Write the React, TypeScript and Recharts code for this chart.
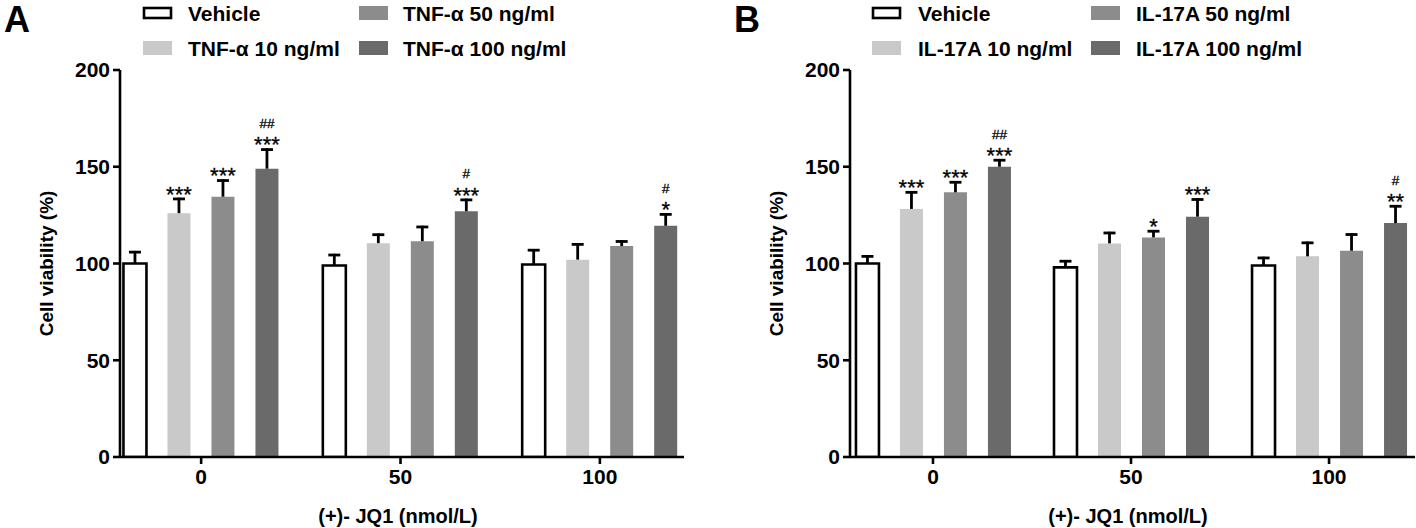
import React from "react";
import { BarChart, Bar, XAxis, YAxis, LabelList } from "recharts";

// (+)-JQ1 doses on the x axis
const doses = ["0", "50", "100"];

// Panel A: TNF-α
const tnfNames = ["Vehicle", "TNF-α 10 ng/ml", "TNF-α 50 ng/ml", "TNF-α 100 ng/ml"];
const tnfVehicle = [100, 99, 99.5];
const tnfVehicleErr = [6.5, 6, 8];
const tnf10 = [126, 110.5, 102];
const tnf10Err = [8, 5, 8.5];
const tnf50 = [134.5, 111.5, 109];
const tnf50Err = [9, 8, 3];
const tnf100 = [149, 127, 119.5];
const tnf100Err = [10.5, 6.5, 6.5];
const tnfStars = [
  ["", "", ""],
  ["***", "", ""],
  ["***", "", ""],
  ["***", "***", "*"],
];
const tnfHashes = [
  ["", "", ""],
  ["", "", ""],
  ["", "", ""],
  ["##", "#", "#"],
];

// Panel B: IL-17A
const ilNames = ["Vehicle", "IL-17A 10 ng/ml", "IL-17A 50 ng/ml", "IL-17A 100 ng/ml"];
const ilVehicle = [100, 98, 99];
const ilVehicleErr = [4.3, 3.8, 4.5];
const il10 = [128.2, 110.4, 103.7];
const il10Err = [9.2, 6, 7.6];
const il50 = [136.8, 113.5, 106.6];
const il50Err = [5.8, 3.8, 9];
const il100 = [150, 124.2, 120.9];
const il100Err = [4, 9.5, 9.3];
const ilStars = [
  ["", "", ""],
  ["***", "", ""],
  ["***", "*", ""],
  ["***", "***", "**"],
];
const ilHashes = [
  ["", "", ""],
  ["", "", ""],
  ["", "", ""],
  ["##", "", "#"],
];

const yTicks = [0, 50, 100, 150, 200];
const fills = ["#ffffff", "#c9c9c9", "#8c8c8c", "#6a6a6a"];
const FONT = "'Liberation Sans', Arial, Helvetica, sans-serif";

const ErrShape = (props: any) => {
  const { x, y, width, height } = props;
  if (x == null || y == null) return null;
  const cx = x + width / 2;
  return (
    <g>
      <line x1={cx} x2={cx} y1={y + height} y2={y} stroke="#000" strokeWidth={2.8} />
      <line x1={cx - 6} x2={cx + 6} y1={y + 1.2} y2={y + 1.2} stroke="#000" strokeWidth={2.8} />
    </g>
  );
};

const sigLabel = (stars: string[], hashes: string[]) => (p: any) => {
  const { x, y, width, index } = p;
  if (x == null || y == null) return null;
  const cx = x + width / 2;
  return (
    <g fontFamily={FONT} fill="#000">
      {stars[index] ? (
        <text x={cx} y={y + 4} textAnchor="middle" fontSize={22} stroke="#000" strokeWidth={0.3}>
          {stars[index]}
        </text>
      ) : null}
      {hashes[index] ? (
        <text x={cx} y={y - 20.5} textAnchor="middle" fontSize={13.5} stroke="#000" strokeWidth={0.3}>
          {hashes[index]}
        </text>
      ) : null}
    </g>
  );
};

function Panel({
  letter,
  names,
  means,
  errs,
  stars,
  hashes,
  width,
  domain,
  marginRight,
  legendX,
  titleX,
}: {
  letter: string;
  names: string[];
  means: number[][];
  errs: number[][];
  stars: string[][];
  hashes: string[][];
  width: number;
  domain: [number, number];
  marginRight: number;
  legendX: number[];
  titleX: number;
}) {
  const data = doses.map((d, i) => {
    const row: any = { x: i, dose: d };
    means.forEach((m, s) => {
      row["m" + s] = m[i];
      row["e" + s] = errs[s][i];
    });
    return row;
  });

  return (
    <div style={{ position: "relative", width, height: 528 }}>
      <BarChart
        width={width}
        height={528}
        data={data}
        margin={{ top: 70, right: marginRight, bottom: 0, left: 60 }}
        barSize={23}
        barGap={21}
      >
        <XAxis
          type="number"
          dataKey="x"
          domain={domain}
          ticks={[0, 1, 2]}
          allowDataOverflow
          tickFormatter={(v) => doses[v]}
          height={71}
          axisLine={{ stroke: "#000", strokeWidth: 2.6 }}
          tickLine={{ stroke: "#000", strokeWidth: 2.6 }}
          tickSize={7}
          tickMargin={5}
          tick={{ fill: "#000", fontSize: 21, fontWeight: "bold", fontFamily: FONT }}
        />
        <YAxis
          width={60}
          domain={[0, 200]}
          ticks={yTicks}
          allowDataOverflow
          axisLine={{ stroke: "#000", strokeWidth: 2.6 }}
          tickLine={{ stroke: "#000", strokeWidth: 2.6 }}
          tickSize={7}
          tickMargin={3}
          tick={{ fill: "#000", fontSize: 21, fontWeight: "bold", fontFamily: FONT }}
          label={{
            content: (p: any) => {
              const vb = p.viewBox;
              const cx = vb.x - 14;
              const cy = vb.y + vb.height / 2;
              return (
                <text
                  x={cx}
                  y={cy}
                  transform={`rotate(-90, ${cx}, ${cy})`}
                  textAnchor="middle"
                  dominantBaseline="central"
                  fontSize={19}
                  fontWeight="bold"
                  fontFamily={FONT}
                  fill="#000"
                >
                  Cell viability (%)
                </text>
              );
            },
          }}
        />
        {means.map((_, s) => (
          <Bar
            key={"m" + s}
            dataKey={"m" + s}
            stackId={"s" + s}
            fill={fills[s]}
            stroke={s === 0 ? "#000" : "none"}
            strokeWidth={s === 0 ? 2.6 : 0}
            isAnimationActive={false}
          />
        ))}
        {means.map((_, s) => (
          <Bar
            key={"e" + s}
            dataKey={"e" + s}
            stackId={"s" + s}
            fill="none"
            shape={ErrShape}
            isAnimationActive={false}
          >
            <LabelList dataKey={"e" + s} content={sigLabel(stars[s], hashes[s])} />
          </Bar>
        ))}
      </BarChart>
      <svg
        width={width}
        height={528}
        style={{ position: "absolute", left: 0, top: 0, pointerEvents: "none" }}
        fontFamily={FONT}
      >
        <text x={4} y={32} fontSize={36} fontWeight="bold" fill="#000">
          {letter}
        </text>
        {names.map((n, s) => {
          const col = s < 2 ? 0 : 1;
          const row = s % 2;
          const bx = legendX[col * 2];
          const tx = legendX[col * 2 + 1];
          const cy = row === 0 ? 13 : 48;
          return (
            <g key={n}>
              {s === 0 ? (
                <rect x={bx + 1} y={cy - 5} width={27} height={10} fill="#fff" stroke="#000" strokeWidth={2.6} />
              ) : (
                <rect x={bx} y={cy - 7} width={29} height={14} fill={fills[s]} />
              )}
              <text x={tx} y={cy + 7.5} fontSize={21} fontWeight="bold" fill="#000">
                {n}
              </text>
            </g>
          );
        })}
        <text x={titleX} y={523} textAnchor="middle" fontSize={20} fontWeight="bold" fill="#000">
          (+)- JQ1 (nmol/L)
        </text>
      </svg>
    </div>
  );
}

export default function App() {
  return (
    <div style={{ position: "absolute", left: 0, top: 0, width: 1416, height: 528, background: "#fff" }}>
      <div style={{ position: "absolute", left: 0, top: 0 }}>
        <Panel
          letter="A"
          names={tnfNames}
          means={[tnfVehicle, tnf10, tnf50, tnf100]}
          errs={[tnfVehicleErr, tnf10Err, tnf50Err, tnf100Err]}
          stars={tnfStars}
          hashes={tnfHashes}
          width={700}
          domain={[-0.407, 2.422]}
          marginRight={16}
          legendX={[143, 188, 359, 403]}
          titleX={398}
        />
      </div>
      <div style={{ position: "absolute", left: 730, top: 0 }}>
        <Panel
          letter="B"
          names={ilNames}
          means={[ilVehicle, il10, il50, il100]}
          errs={[ilVehicleErr, il10Err, il50Err, il100Err]}
          stars={ilStars}
          hashes={ilHashes}
          width={686}
          domain={[-0.419, 2.434]}
          marginRight={1}
          legendX={[142, 188, 361, 406]}
          titleX={398}
        />
      </div>
    </div>
  );
}
